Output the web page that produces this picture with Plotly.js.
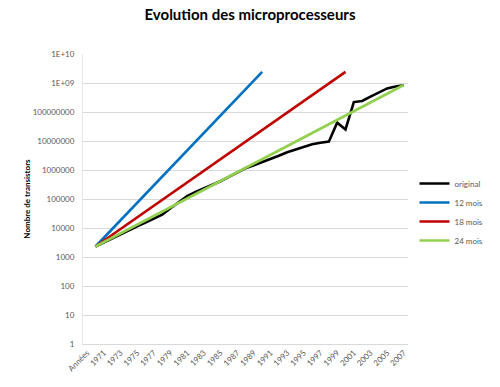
<!DOCTYPE html>
<html><head><meta charset="utf-8">
<script src="https://cdn.plot.ly/plotly-3.0.1.min.js"></script>
<style>html,body{margin:0;padding:0;background:#fff}#chart{width:500px;height:387px}</style>
</head><body><div id="chart"></div>
<script>
const years = ['1970','1971','1972','1973','1974','1975','1976','1977','1978','1979',
  '1980','1981','1982','1983','1984','1985','1986','1987','1988','1989',
  '1990','1991','1992','1993','1994','1995','1996','1997','1998','1999',
  '2000','2001','2002','2003','2004','2005','2006','2007'];
const categories = ['Années'].concat(years);
const xTickLabels = ['Années','1971','1973','1975','1977','1979','1981','1983','1985','1987',
  '1989','1991','1993','1995','1997','1999','2001','2003','2005','2007'];
const yTickValues = [1,10,100,1000,10000,100000,1000000,10000000,100000000,1000000000,10000000000];
const yTickLabels = ['1','10','100','1000','10000','100000','1000000','10000000','100000000','1E+09','1E+10'];

const original = [2300,3200,4400,6000,8200,11500,15500,21000,29000,48000,
  78000,125000,175000,230000,305000,410000,580000,820000,1150000,1450000,
  1850000,2400000,3100000,4100000,5100000,6300000,7700000,8700000,9500000,43000000,
  25000000,220000000,240000000,340000000,480000000,650000000,760000000,830000000];
const mois12 = [2300,4600,9200,18400,36800,73600,147200,294400,588800,1177600,
  2355200,4710400,9420800,18841600,37683200,75366400,150732800,301465600,602931200,1205862400,
  2411724800];
const mois18 = [2300,3651,5796,9200,14604,23183,36800,58417,92733,147200,
  233668,370932,588800,934672,1483729,2355200,3738688,5934916,9420800,14954752,
  23739663,37683200,59819008,94958652,150732800,239276032,379834608,602931200,957104128,1519338432,
  2411724800];
const mois24 = [2300,3253,4600,6505,9200,13011,18400,26022,36800,52043,
  73600,104086,147200,208172,294400,416344,588800,832687,1177600,1665375,
  2355200,3330750,4710400,6661499,9420800,13322999,18841600,26645998,37683200,53291996,
  75366400,106583991,150732800,213167983,301465600,426335966,602931200,852671932];

const seriesNames = ['original','12 mois','18 mois','24 mois'];
const seriesColors = ['#000000','#0070C0','#C00000','#92D050'];
const seriesValues = [original, mois12, mois18, mois24];

const traces = seriesValues.map((vals, i) => ({
  type: 'scatter', mode: 'lines',
  x: years.slice(0, vals.length), y: vals,
  name: seriesNames[i],
  line: {color: seriesColors[i], width: 2.6}
}));

const font = 'Lato, "Open Sans", sans-serif';
const layout = {
  width: 500, height: 387,
  margin: {l: 83, r: 82, t: 54, b: 43},
  paper_bgcolor: '#fff', plot_bgcolor: '#fff',
  font: {family: font, size: 8, color: '#595959'},
  title: {text: 'Evolution des microprocesseurs', x: 0.5, xanchor: 'center', y: 0.962, yanchor: 'middle',
    font: {family: font, size: 15, color: '#000000', weight: 'bold'}},
  showlegend: true,
  legend: {x: 1.02, xanchor: 'left', y: 0.455, yanchor: 'middle', font: {family: font, size: 8, color: '#595959'},
    bgcolor: 'rgba(0,0,0,0)', tracegroupgap: 0},
  xaxis: {type: 'category', categoryorder: 'array', categoryarray: categories,
    range: [-0.5, categories.length - 0.5], tickmode: 'array', tickvals: xTickLabels, ticktext: xTickLabels,
    tickangle: -45, showgrid: false, showline: true, linecolor: '#d9d9d9', linewidth: 1, ticks: '',
    zeroline: false, tickfont: {family: font, size: 8, color: '#595959'}},
  yaxis: {type: 'log', range: [0, 10], tickmode: 'array', tickvals: yTickValues, ticktext: yTickLabels,
    showgrid: true, gridcolor: '#d9d9d9', gridwidth: 1, showline: true, linecolor: '#e8e8e8', ticks: '',
    ticklabelstandoff: 6, zeroline: false, tickfont: {family: font, size: 8, color: '#595959'},
    title: {text: '<b>Nombre de transistors</b>', standoff: 0, font: {family: font, size: 8, color: '#000000'}}}
};

Plotly.newPlot('chart', traces, layout, {displayModeBar: false, staticPlot: true});
</script>
</body></html>
